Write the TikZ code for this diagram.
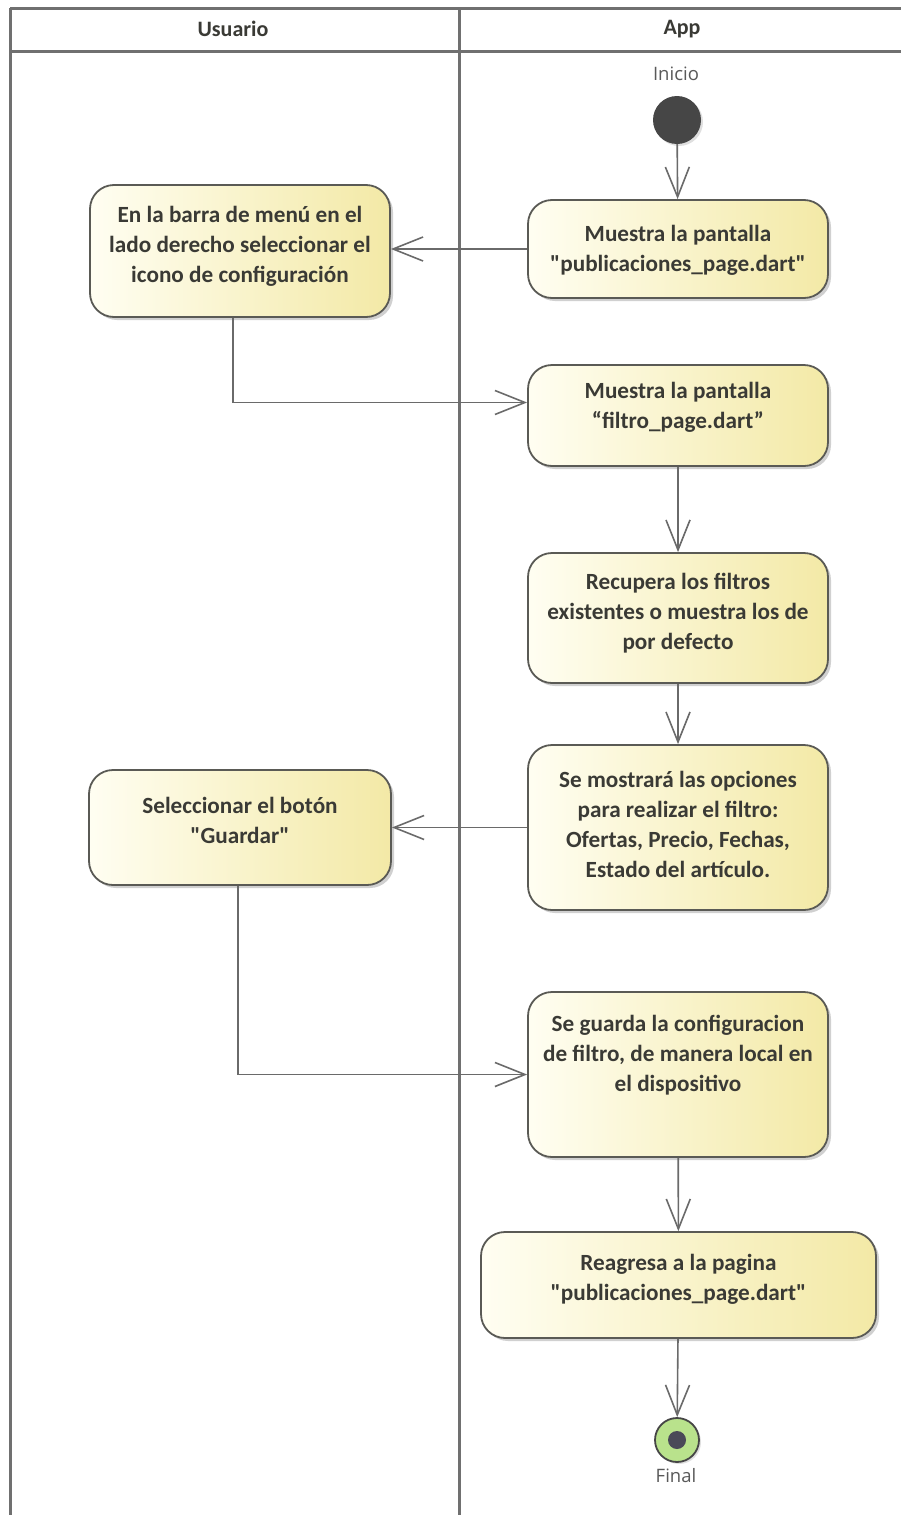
\documentclass[tikz,border=0pt]{standalone}
\usepackage{fontspec}
% TeX input mapping off, so " stays a straight double quote
\setmainfont{Carlito}[Ligatures=TeXOff]
\newfontfamily\labelfont{Open Sans}
\usetikzlibrary{arrows.meta,shadows}

\definecolor{laneline}{HTML}{707070}
\definecolor{boxedge}{HTML}{5A5A55}
\definecolor{boxlight}{HTML}{FFFEF2}
\definecolor{boxdark}{HTML}{F3E9A6}
\definecolor{inktext}{HTML}{3A3A35}
\definecolor{flowline}{HTML}{6A6A6A}
\definecolor{startfill}{HTML}{464646}
\definecolor{endfill}{HTML}{B9E28C}
\definecolor{enddot}{HTML}{4A4A58}

\tikzset{
  lane/.style={draw=laneline, line width=3pt},
  act/.style={draw=boxedge, line width=1.8pt, rounded corners=24pt,
    left color=boxlight, right color=boxdark,
    drop shadow={shadow xshift=3pt, shadow yshift=-3pt, opacity=0.3, fill=black!60},
    inner sep=0pt},
  acttext/.style={text=inktext, align=center, inner sep=0pt,
    font=\fontsize{23.2}{30}\selectfont\bfseries},
  header/.style={text=inktext, font=\fontsize{22}{26}\selectfont\bfseries},
  tag/.style={text=black!65, font=\labelfont\fontsize{18.5}{22}\selectfont},
  flow/.style={draw=flowline, line width=1.6pt,
    -{Straight Barb[length=30pt,width=24pt,line width=1.6pt]}},
}

\begin{document}
\begin{tikzpicture}[x=1pt,y=-1pt]
\useasboundingbox (0,0) rectangle (901,1515);
\fill[white] (0,0) rectangle (901,1515);

% swimlane frame
\draw[lane] (10,8) -- (901,8);
\draw[lane] (10,51) -- (901,51);
\draw[lane] (10,8) -- (10,1515);
\draw[lane] (459,8) -- (459,1515);
\node[header] (hUser) at (233,29) {Usuario};
\node[header] (hApp) at (682,29) {App};

% initial node
\node[tag] (lInicio) at (676,74) {Inicio};
\node[circle, fill=startfill, minimum size=48pt, inner sep=0pt,
      drop shadow={shadow xshift=2pt, shadow yshift=-2pt, opacity=0.25}] (start) at (677,120) {};

% activities (box first, then its text)
\node[act, minimum width=300pt, minimum height=98pt] (b1) at (678,249) {};
\node[acttext] (t1) at (678,250) {Muestra la pantalla\\"publicaciones\_page.dart"};

\node[act, minimum width=300pt, minimum height=132pt] (uA) at (240,251) {};
\node[acttext] (tA) at (240,246) {En la barra de menú en el\\lado derecho seleccionar el\\icono de configuración};

\node[act, minimum width=300pt, minimum height=101pt] (b2) at (678,415.5) {};
\node[acttext] (t2) at (678,407) {Muestra la pantalla\\“filtro\_page.dart”};

\node[act, minimum width=300pt, minimum height=130pt] (b3) at (678,618) {};
\node[acttext] (t3) at (678,613) {Recupera los filtros\\existentes o muestra los de\\por defecto};

\node[act, minimum width=300pt, minimum height=165pt] (b4) at (678,827.5) {};
\node[acttext] (t4) at (678,824) {Se mostrará las opciones\\para realizar el filtro:\\Ofertas, Precio, Fechas,\\Estado del artículo.};

\node[act, minimum width=302pt, minimum height=115pt] (uB) at (240,827.5) {};
\node[acttext] (tB) at (240,820) {Seleccionar el botón\\"Guardar"};

\node[act, minimum width=300pt, minimum height=165pt] (b5) at (678,1074.5) {};
\node[acttext] (t5) at (678,1055) {Se guarda la configuracion\\de filtro, de manera local en\\el dispositivo};

\node[act, minimum width=395pt, minimum height=106pt] (b6) at (678.5,1285) {};
\node[acttext] (t6) at (678.5,1279.5) {Reagresa a la pagina\\"publicaciones\_page.dart"};

% final node
\node[circle, draw=startfill, line width=1.8pt, fill=endfill, minimum size=44pt, inner sep=0pt,
      drop shadow={shadow xshift=2pt, shadow yshift=-2pt, opacity=0.25}] (final) at (677,1440) {};
\node[circle, fill=enddot, minimum size=18pt, inner sep=0pt] (finalDot) at (final) {};
\node[tag] (lFinal) at (676,1476) {Final};

% control flow
\draw[flow] (start) -- (b1);
\draw[flow] (b1.west) -- (b1.west -| uA.east);
\draw[flow] ([xshift=-7pt]uA.south) |- ([yshift=13pt]b2.west);
\draw[flow] (b2) -- (b3);
\draw[flow] (b3) -- (b4);
\draw[flow] (b4.west) -- (b4.west -| uB.east);
\draw[flow] ([xshift=-2pt]uB.south) |- (b5.west);
\draw[flow] (b5) -- (b6);
\draw[flow] (b6) -- (final);
\end{tikzpicture}
\end{document}
